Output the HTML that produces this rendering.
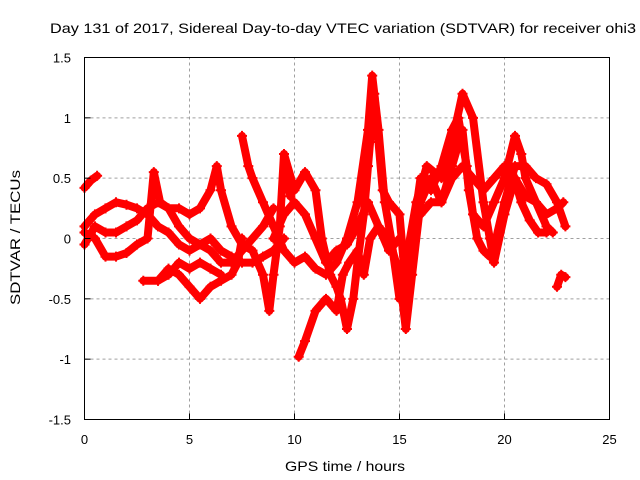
<!DOCTYPE html>
<html><head><meta charset="utf-8"><style>
html,body{margin:0;padding:0;background:#fff}
svg{display:block;font-family:"Liberation Sans",sans-serif}
</style></head><body>
<svg id="c" width="640" height="480" viewBox="0 0 640 480">
<rect x="0" y="0" width="640" height="480" fill="#fff"/>
<text x="50" y="33" font-size="14" textLength="586" lengthAdjust="spacingAndGlyphs">Day 131 of 2017, Sidereal Day-to-day VTEC variation (SDTVAR) for receiver ohi3</text>
<g id="grid"></g>
<g id="data"></g>
<rect x="84.5" y="57.5" width="525" height="362" fill="none" stroke="#000" stroke-width="1"/>
<g id="axes"></g>
<text x="285" y="471" font-size="14" textLength="120" lengthAdjust="spacingAndGlyphs">GPS time / hours</text>
<text transform="translate(20,305) rotate(-90)" font-size="14" textLength="135" lengthAdjust="spacingAndGlyphs">SDTVAR / TECUs</text>
</svg>
<script>
const xTicks=[0,5,10,15,20,25];
const yTicks=[-1.5,-1,-0.5,0,0.5,1,1.5];
const yTickLabels=["-1.5","-1","-0.5","0","0.5","1","1.5"];
const t1=[[0,0.42],[0.3,0.48],[0.6,0.52]];
const t2=[[0,0.1],[0.5,0.2],[1,0.25],[1.5,0.3],[2,0.28],[2.5,0.25],[3,0.2],[3.5,0.1],[4,0.05],[4.5,-0.05],[5,-0.1],[5.5,-0.05],[6,0.0],[6.5,-0.1],[7,-0.15],[7.5,-0.2],[8,-0.2],[8.5,-0.15],[9,-0.1],[9.5,0.0]];
const t3=[[0,0.05],[0.5,0.0],[1,-0.15],[1.5,-0.15],[2,-0.12],[2.5,-0.05],[3,0.0],[3.3,0.55],[3.6,0.3],[4,0.25],[4.5,0.25],[5,0.2],[5.5,0.25],[6,0.4],[6.3,0.6],[6.5,0.4],[7,0.1],[7.5,-0.05],[8,-0.1],[8.5,-0.3],[8.8,-0.6],[9,-0.3],[9.3,0.1],[9.5,0.7],[9.8,0.35]];
const t4=[[0,-0.05],[0.5,0.1],[1,0.05],[1.5,0.05],[2,0.1],[2.5,0.15],[3,0.25],[3.5,0.3],[4,0.25],[4.5,0.1],[5,0.0],[5.5,-0.05],[6,-0.1],[6.5,-0.2],[7,-0.2],[7.5,-0.1],[8,0.0],[8.5,0.1],[9,0.25]];
const t5=[[2.8,-0.35],[3.5,-0.35],[4,-0.25],[4.5,-0.3],[5,-0.4],[5.5,-0.5],[6,-0.4],[6.5,-0.35],[7,-0.3],[7.3,-0.2],[7.5,0.0]];
const t6=[[3.5,-0.35],[4,-0.3],[4.5,-0.2],[5,-0.25],[5.5,-0.2],[6,-0.25],[6.5,-0.3]];
const t7=[[7.5,0.85],[7.8,0.6],[8,0.5],[8.5,0.3],[9,0.1],[9.5,-0.1],[10,-0.2],[10.5,-0.15],[11,-0.25],[11.5,-0.3],[12,-0.2],[12.5,0.0],[13,0.3],[13.5,0.9],[13.7,1.35],[14,0.9],[14.3,0.3],[14.6,0.0],[15,-0.5],[15.3,-0.2],[15.8,0.3],[16.3,0.6],[17,0.5],[17.5,0.8],[18,1.2],[18.5,1.0],[19,0.3],[19.3,0.0],[19.5,-0.2],[20,0.2],[20.5,0.5],[21,0.35],[21.5,0.3],[22,0.1],[22.3,0.05]];
const t8=[[9.5,0.7],[10,0.4],[10.5,0.55],[11,0.4],[11.3,0.0],[11.7,-0.3],[12,-0.4],[12.2,-0.5],[12.5,-0.75],[12.8,-0.5],[13,-0.2],[13.3,0.2],[13.5,0.6],[13.8,1.2],[14,0.8],[14.2,0.4],[14.5,0.3],[15,0.2],[15.2,-0.2],[15.4,-0.5],[15.6,0.0],[16,0.5],[16.5,0.4],[17,0.6],[17.5,0.9],[17.8,1.0],[18.2,0.6],[18.5,0.2],[19,0.1],[19.5,0.3],[20,0.5],[20.5,0.85],[20.8,0.7],[21,0.5],[21.5,0.3],[22,0.2],[22.5,0.25],[22.8,0.3]];
const t9=[[10.2,-0.98],[10.5,-0.85],[11,-0.6],[11.5,-0.5],[12,-0.6],[12.3,-0.3],[12.6,-0.2],[13,-0.1],[13.3,-0.3],[13.6,0.0],[14,0.1],[14.5,0.0],[15,-0.3],[15.3,-0.75],[15.6,-0.3],[16,0.3],[16.5,0.5],[17,0.3],[17.5,0.6],[18,0.9],[18.3,0.4],[18.7,0.0],[19,-0.1],[19.3,-0.15],[19.6,0.0],[20,0.3],[20.5,0.6],[21,0.6],[21.5,0.5],[22,0.45],[22.5,0.3],[22.9,0.1]];
const t10=[[9,0.0],[9.5,0.2],[10,0.3],[10.5,0.2],[11,0.0],[11.5,-0.2],[12,-0.1],[12.5,-0.05],[13,0.1],[13.5,0.3],[14,0.1],[14.5,-0.1],[15,0.0]];
const t11=[[16,0.2],[16.5,0.3],[17,0.3],[17.5,0.5],[18,0.6],[18.5,0.5],[19,0.4],[19.5,0.5],[20,0.6],[20.3,0.6],[20.8,0.3],[21.2,0.15],[21.6,0.05],[22,0.05]];
const t12=[[22.5,-0.4],[22.7,-0.3],[22.9,-0.32]];
const tracks=[t1,t2,t3,t4,t5,t6,t7,t8,t9,t10,t11,t12];

const X0=84.5,X1=609.5,Y0=419.5,Y1=57.5;
function sx(v){return X0+(v-0)/(25-0)*(X1-X0);}
function sy(v){return Y0-(v+1.5)/3*(Y0-Y1);}
const NS="http://www.w3.org/2000/svg";
function mk(tag,attrs,parent){const e=document.createElementNS(NS,tag);for(const k in attrs)e.setAttribute(k,attrs[k]);parent.appendChild(e);return e;}
const grid=document.getElementById('grid'),axes=document.getElementById('axes'),data=document.getElementById('data');
xTicks.forEach(v=>{
  const x=sx(v);
  if(v>0&&v<25){const g=mk('line',{x1:x,y1:Y0,x2:x,y2:Y1,stroke:'#a0a0a0','stroke-dasharray':'3,3'},grid);
  
  }
  const t=mk('text',{x:x,y:444,'font-size':'13','text-anchor':'middle'},axes);
  t.textContent=String(v);
  
  
  const tk=mk('line',{x1:x,y1:Y0,x2:x,y2:Y0-6,stroke:'#000'},axes);
  
  
});
yTicks.forEach((v,i)=>{
  const y=sy(v);
  if(i>0&&i<yTicks.length-1){const g=mk('line',{x1:X0,y1:y,x2:X1,y2:y,stroke:'#a0a0a0','stroke-dasharray':'3,3'},grid);
  
  }
  const t=mk('text',{x:71,y:y+5,'font-size':'13','text-anchor':'end'},axes);
  t.textContent=yTickLabels[i];
  
  
  const tk=mk('line',{x1:X0,y1:y,x2:X0+6,y2:y,stroke:'#000'},axes);
  
  
});
tracks.forEach((tr,k)=>{
  const pts=tr.map(p=>sx(p[0]).toFixed(1)+','+sy(p[1]).toFixed(1)).join(' ');
  const pl=mk('polyline',{points:pts,fill:'none',stroke:'#ff0000','stroke-width':'8','stroke-linejoin':'round','stroke-linecap':'round'},data);
  
  
  tr.forEach(p=>{
    const x=sx(p[0]),y=sy(p[1]);
    const m=mk('path',{d:`M${x-5},${y}h10M${x},${y-5}v10`,stroke:'#ff0000','stroke-width':'2'},data);
    
    
  });
});
</script>
</body></html>
